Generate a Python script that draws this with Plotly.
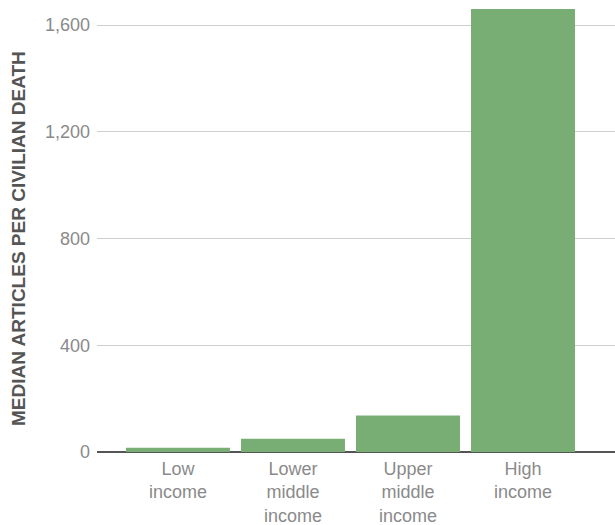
import plotly.graph_objects as go

categories = ["Low<br>income", "Lower<br>middle<br>income", "Upper<br>middle<br>income", "High<br>income"]
values = [16, 50, 137, 1660]
y_ticks = [0, 400, 800, 1200, 1600]
y_tick_labels = ["0", "400", "800", "1,200", "1,600"]
y_title = "MEDIAN ARTICLES PER CIVILIAN DEATH"

fig = go.Figure(go.Bar(x=categories, y=values, marker=dict(color="#78ad74", line=dict(width=0)),
                       hoverinfo="skip"))

fig.update_layout(
    width=615, height=525,
    margin=dict(l=97, r=0, t=0, b=73, autoexpand=False),
    plot_bgcolor="white", paper_bgcolor="white",
    bargap=0.096,
    showlegend=False,
    font=dict(family="Liberation Sans, Arial, sans-serif", size=18, color="#8a8a8a"),
)
fig.update_xaxes(
    range=[-0.704, 3.8], showgrid=False, ticks="", showline=False,
    ticklabelstandoff=4,
    tickfont=dict(size=18, color="#8a8a8a"),
)
fig.update_yaxes(
    range=[0, 1693.7], tickvals=y_ticks, ticktext=y_tick_labels,
    showgrid=True, gridcolor="#cfcfcf", gridwidth=1,
    zeroline=True, zerolinecolor="#555555", zerolinewidth=2,
    ticks="", ticklabelstandoff=6,
    tickfont=dict(size=18, color="#8a8a8a"),
)
fig.add_annotation(
    text="<b>" + y_title + "</b>", xref="paper", yref="paper",
    x=-0.1506, y=0.4735, xanchor="center", yanchor="middle",
    textangle=-90, showarrow=False,
    font=dict(size=19, color="#555555"),
)

fig.write_html(
    "out.html",
    config={"displayModeBar": False},
    post_script="document.body.style.margin='0';document.body.style.overflow='hidden';",
)
